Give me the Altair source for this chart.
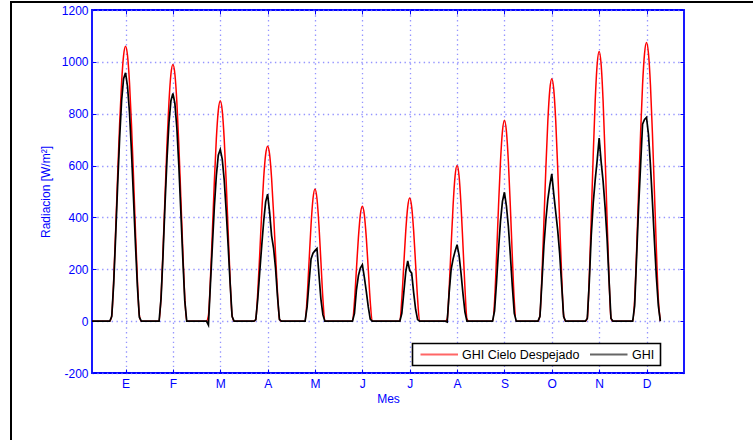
import altair as alt
import pandas as pd

# ---- data ----
months = ["E", "F", "M", "A", "M", "J", "J", "A", "S", "O", "N", "D"]
tick_hours = [17, 41, 65, 89, 113, 137, 161, 185, 209, 233, 257, 281]
y_ticks = [-200, 0, 200, 400, 600, 800, 1000, 1200]
offsets = [-8, -7, -6, -5, -4, -3, -2, -1, 0, 1, 2, 3, 4, 5, 6, 7, 8]

clear_sky = [
    [0, 22, 161, 353, 564, 760, 920, 1024, 1060, 1024, 920, 760, 564, 353, 161, 22, 0],
    [0, 0, 97, 276, 481, 681, 845, 953, 990, 953, 845, 681, 481, 276, 97, 0, 0],
    [0, 0, 22, 160, 345, 538, 702, 812, 850, 812, 702, 538, 345, 160, 22, 0, 0],
    [0, 0, 8, 111, 259, 417, 552, 643, 675, 643, 552, 417, 259, 111, 8, 0, 0],
    [0, 0, 0, 0, 88, 230, 371, 473, 510, 473, 371, 230, 88, 0, 0, 0, 0],
    [0, 0, 0, 0, 76, 200, 322, 411, 443, 411, 322, 200, 76, 0, 0, 0, 0],
    [0, 0, 0, 0, 86, 218, 348, 441, 475, 441, 348, 218, 86, 0, 0, 0, 0],
    [0, 0, 0, 9, 127, 291, 448, 560, 600, 560, 448, 291, 127, 9, 0, 0, 0],
    [0, 0, 0, 77, 249, 442, 615, 733, 775, 733, 615, 442, 249, 77, 0, 0, 0],
    [0, 0, 24, 176, 380, 591, 772, 893, 935, 893, 772, 591, 380, 176, 24, 0, 0],
    [0, 0, 12, 170, 399, 642, 850, 991, 1040, 991, 850, 642, 399, 170, 12, 0, 0],
    [0, 0, 85, 277, 502, 725, 911, 1032, 1075, 1032, 911, 725, 502, 277, 85, 0],
]

measured = [
    [0, 18, 145, 330, 525, 705, 850, 935, 958, 905, 805, 655, 480, 300, 135, 15, 0],
    [0, 0, 88, 255, 450, 625, 765, 850, 878, 840, 745, 600, 425, 245, 80, 0, 0],
    [0, 0, -15, 140, 290, 440, 560, 640, 662, 625, 545, 425, 290, 145, 18, 0, 0],
    [0, 0, 5, 85, 190, 290, 385, 460, 490, 420, 330, 282, 205, 95, 6, 0, 0],
    [0, 0, 0, 0, 55, 150, 240, 262, 272, 280, 180, 85, 25, 0, 0, 0, 0],
    [0, 0, 0, 0, 30, 120, 175, 205, 218, 170, 115, 55, 8, 0, 0, 0, 0],
    [0, 0, 0, 0, 30, 110, 190, 232, 195, 185, 110, 45, 6, 0, 0, 0, 0],
    [0, 0, 0, -3, 110, 200, 240, 270, 295, 255, 185, 105, 35, 0, 0, 0, 0],
    [0, 0, 0, 40, 150, 275, 385, 462, 497, 445, 365, 255, 135, 30, 0, 0, 0],
    [0, 0, 18, 150, 290, 390, 470, 525, 568, 490, 420, 350, 260, 140, 18, 0, 0],
    [0, 0, 10, 150, 330, 455, 545, 620, 706, 615, 540, 440, 320, 160, 10, 0, 0],
    [0, 0, 60, 250, 440, 600, 760, 778, 786, 720, 600, 460, 310, 170, 60, 0],
]

series_names = ["GHI Cielo Despejado", "GHI"]
series_colors = ["#ff0000", "#000000"]

rows = []
for name, days in zip(series_names, [clear_sky, measured]):
    rows.append({"hora": 0, "valor": 0, "serie": name})
    for tick, vals in zip(tick_hours, days):
        for off, v in zip(offsets, vals):
            rows.append({"hora": tick + off, "valor": v, "serie": name})
df = pd.DataFrame(rows)

BLUE = "#0000ff"
FONT = "Liberation Sans"

label_expr = (
    "[" + ",".join(f"'{m}'" for m in months) + "]"
    + "[indexof([" + ",".join(str(t) for t in tick_hours) + "], datum.value)]"
)

x_scale = alt.Scale(domain=[0, 300], nice=False, zero=False)
y_scale = alt.Scale(domain=[-200, 1200], nice=False, zero=False)
color_scale = alt.Scale(domain=series_names, range=series_colors)

common_axis = dict(tickSize=4, offset=-4, domain=False, tickColor=BLUE, tickWidth=1,
                   labelColor=BLUE, labelFont=FONT, titleColor=BLUE, titleFont=FONT,
                   titleFontWeight="normal", gridColor="#7a7aff", gridDash=[1.4, 3.4],
                   gridWidth=1.3, gridOpacity=0.8)

bottom_axis = alt.Axis(orient="bottom", values=tick_hours, labelExpr=label_expr,
                       grid=True, labelFontSize=12, labelPadding=5, title="Mes",
                       titleFontSize=12, titlePadding=4, **common_axis)
left_axis = alt.Axis(orient="left", values=y_ticks, labelExpr="'' + datum.value",
                     grid=True, labelFontSize=12, labelPadding=4,
                     title="Radiacion [W/m²]", titleFontSize=12, titlePadding=9,
                     **common_axis)
top_axis = alt.Axis(orient="top", values=tick_hours, labels=False, grid=False,
                    title=None, **common_axis)
right_axis = alt.Axis(orient="right", values=y_ticks, labels=False, grid=False,
                      title=None, **common_axis)

base = alt.Chart(df)

red = base.transform_filter(alt.datum.serie == series_names[0]).mark_line(
    interpolate="monotone", strokeWidth=1.5
).encode(
    x=alt.X("hora:Q", scale=x_scale, axis=bottom_axis),
    y=alt.Y("valor:Q", scale=y_scale, axis=left_axis),
    color=alt.Color("serie:N", scale=color_scale, legend=None),
    order=alt.Order("hora:Q"),
)

black = base.transform_filter(alt.datum.serie == series_names[1]).mark_line(
    interpolate="linear", strokeWidth=1.7
).encode(
    x=alt.X("hora:Q", scale=x_scale, axis=top_axis),
    y=alt.Y("valor:Q", scale=y_scale, axis=right_axis),
    color=alt.Color("serie:N", scale=color_scale, legend=None),
    order=alt.Order("hora:Q"),
)

one = pd.DataFrame({"a": [0]})

frame = alt.Chart(one).mark_rect(
    fillOpacity=0, stroke="black", strokeWidth=2
).encode(x=alt.value(-81), x2=alt.value(800), y=alt.value(-8), y2=alt.value(500))

# legend box (drawn by hand, positions in pixels of the plot area)
leg_box = alt.Chart(one).mark_rect(
    fill="white", stroke="black", strokeWidth=1.6
).encode(x=alt.value(320.5), x2=alt.value(568.5), y=alt.value(333.5), y2=alt.value(355.5))

leg_y = 344.5
leg_layers = []
for name, col, x0, x1, xt in [
    (series_names[0], series_colors[0], 328.5, 366, 370),
    (series_names[1], series_colors[1], 498, 535.5, 540),
]:
    leg_layers.append(
        alt.Chart(one).mark_rule(color=col, strokeWidth=2, opacity=0.6).encode(
            x=alt.value(x0), x2=alt.value(x1), y=alt.value(leg_y)
        )
    )
    leg_layers.append(
        alt.Chart(one).mark_text(
            align="left", baseline="middle", font=FONT, fontSize=12.5, color="black"
        ).encode(x=alt.value(xt), y=alt.value(leg_y + 0.5), text=alt.value(name))
    )

chart = alt.layer(red, black, frame, leg_box, *leg_layers).resolve_axis(
    x="independent", y="independent"
).properties(
    width=592, height=363,
    autosize=alt.AutoSizeParams(type="none"),
    padding={"left": 92, "top": 10, "right": 69, "bottom": 67},
    background="white",
).configure_view(
    stroke=BLUE, strokeWidth=1.8
)

chart.save("out.html", embed_options={"renderer": "svg", "actions": False})
